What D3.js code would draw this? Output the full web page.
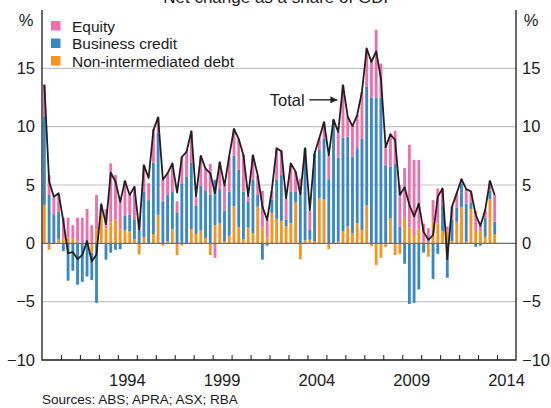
<!DOCTYPE html>
<html>
<head>
<meta charset="utf-8">
<script src="https://cdn.jsdelivr.net/npm/d3@7"></script>
<style>
  body { margin: 0; background: #fff; }
  text { font-family: "Liberation Sans", Arial, sans-serif; fill: #1a1a1a; }
</style>
</head>
<body>
<div class="chart"></div>
<script>
const title = "Net change as a share of GDP";
const source = "Sources: ABS; APRA; ASX; RBA";
const startYear = 1990;
const endYear = 2015;
const yearLabels = [1994, 1999, 2004, 2009, 2014];
const yTicks = [-10, -5, 0, 5, 10, 15];
const gridTicks = [-5, 5, 10, 15];

// stacking order: bottom to top
const seriesNames = ["Non-intermediated debt", "Business credit", "Equity"];
const legendNames = ["Equity", "Business credit", "Non-intermediated debt"];
const colours = {
  "Equity": "#ef6fab",
  "Business credit": "#3a87c8",
  "Non-intermediated debt": "#f7941e"
};

// quarterly, 1990 Q1 to 2013 Q4, per cent of GDP
const equity = [
  2.7, 1.7, 1.5, 1.5, 1.75, 1.7, 1.1, 2.05, 2.2, 2.95,
  1.55, 2.95, 0, 1.65, 5.05, 3.8, 2.7, 2.95, 1.7, 2.85,
  1.0, 2.3, 1.45, 2.85, 1.35, 1.85, 1.8, 2.45, 1.0, 2.3,
  2.2, 2.75, 0.8, 2.55, 1.85, 2.65, -1.25, 2.3, 2.15, 3.0,
  2.3, 2.65, 3.15, 0.45, 2.1, 1.65, 3.15, 1.5, 0.75, 2.7,
  2.15, 1.8, 2.45, 1.75, 1.35, 0, 1.65, 0, 1.0, 1.4,
  2.05, 0, 2.2, 4.5, 1.7, 2.6, 2.85, 4.0, 3.3, 3.3,
  5.8, 2.9, 1.6, 2.85, 2.8, 3.55, 4.25, 7.1, 6.45, 5.85,
  1.55, 1.3, 1.85, 3.0, 1.4, 0.45, 1.1, 1.25, 0.45, 1.25,
  1.0, 1.6, 0.45, 0.65, 0.85, 2.3
];
const businessCredit = [
  7.6, 4.15, 2.5, 2.33, -0.65, -3.2, -2.35, -3.55, -3.3, -2.85,
  -2.35, -5.1, 0.65, -1.4, -0.8, -0.55, -0.5, 1.25, 1.45, 1.65,
  1.1, 3.85, 3.7, 6.1, 7.0, 3.6, 4.05, 3.2, 2.6, 5.15,
  5.7, 5.7, 2.4, 3.85, 4.1, 4.15, 3.9, 2.95, 2.6, 3.8,
  4.3, 4.95, 4.1, 2.25, 4.6, 1.0, -1.4, -0.2, 1.15, 3.35,
  3.95, 0.6, 2.65, 0.9, 4.2, 7.9, 0.85, 7.5, 4.15, 5.25,
  5.5, 10.6, 7.2, 8.0, 7.7, 6.6, 6.4, 7.85, 10.15, 12.5,
  12.5, 12.5, 6.7, 4.4, 6.85, 1.45, -1.75, -5.2, -5.1, -3.95,
  -0.8, 0, -3.05, -0.9, 2.25, -2.95, 1.85, 1.2, 2.0, 3.25,
  0.5, -0.3, -0.2, 1.65, 0.7, 1.05
];
const nonIntermediated = [
  3.3, -0.55, 0, 0.37, 0.45, 0.5, 0.45, 0.15, 0, 0,
  -0.8, 1.2, 2.7, 1.3, 1.8, 2.05, 1.2, 1.15, 1.0, 0.35,
  -0.95, 0.55, 0, 0.8, 2.45, -0.2, 0.15, 1.2, -1.0, -0.2,
  0, 1.2, 0.8, 1.1, 0.45, -1.0, 1.55, 1.7, 0.2, 0.65,
  3.2, 1.35, 0.35, 1.35, 0.85, 3.15, 1.35, 0.5, 2.6, 2.1,
  1.9, 1.45, 1.75, 3.5, -1.35, 0.25, 0.3, 0.2, 3.85, 3.75,
  -0.5, 0, 0.15, 1.05, 1.45, 0.85, 1.75, 1.15, 3.25, -0.25,
  -1.85, -1.25, -0.3, 2.15, -1.0, -0.9, 2.2, 1.35, 0.7, 1.3,
  0.15, -1.15, 1.85, 1.7, 1.05, 1.0, 0.2, 1.85, 3.1, 0.15,
  2.95, 1.15, 1.05, 0.55, 3.8, 0.8
];
const total = [
  13.6, 5.3, 4.0, 4.3, 1.9, -0.85, -0.75, -1.35, -1.0, 0.2,
  -1.55, -0.95, 3.35, 1.65, 6.05, 5.3, 3.55, 5.35, 4.15, 4.85,
  1.15, 6.7, 5.6, 9.7, 10.8, 5.45, 6.0, 6.85, 4.35, 7.4,
  7.85, 9.6, 4.05, 7.5, 6.4, 6.0, 4.3, 6.95, 4.95, 7.5,
  9.8, 8.95, 7.55, 4.05, 7.55, 5.85, 3.15, 2.0, 4.6, 8.15,
  7.9, 3.85, 6.85, 6.15, 4.2, 8.15, 2.85, 7.7, 9.0, 10.4,
  7.55, 10.6, 9.55, 13.55, 10.85, 10.05, 11.0, 13.0, 16.7, 15.55,
  16.45, 14.15, 8.25, 9.35, 8.85, 4.15, 4.8, 3.3, 2.3, 3.4,
  1.0, 0.3, 0.7, 4.0, 4.7, -1.35, 3.15, 4.3, 5.5, 4.65,
  4.45, 2.45, 1.5, 2.85, 5.35, 4.15
];

const width = 551, height = 408;
const margin = { top: 10, right: 35, bottom: 48, left: 42 };

const rows = equity.map((d, i) => ({
  t: startYear + i / 4,
  "Equity": d,
  "Business credit": businessCredit[i],
  "Non-intermediated debt": nonIntermediated[i],
  total: total[i]
}));

const x = d3.scaleLinear()
  .domain([startYear, endYear])
  .range([margin.left, width - margin.right]);

const y = d3.scaleLinear()
  .domain([-10, 20])
  .range([height - margin.bottom, margin.top]);

const qw = x(startYear + 0.25) - x(startYear);
const barW = qw * 0.6;

const svg = d3.select(".chart")
  .append("svg")
  .attr("width", width)
  .attr("height", height);

// gridlines
svg.append("g")
  .selectAll("line")
  .data(gridTicks)
  .join("line")
  .attr("x1", x(startYear))
  .attr("x2", x(endYear))
  .attr("y1", d => y(d))
  .attr("y2", d => y(d))
  .attr("stroke", "#c4c4c4")
  .attr("stroke-width", 1.2);

// stacked bars
const stack = d3.stack()
  .keys(seriesNames)
  .offset(d3.stackOffsetDiverging);

svg.append("g")
  .selectAll("g")
  .data(stack(rows))
  .join("g")
  .attr("fill", d => colours[d.key])
  .selectAll("rect")
  .data(d => d)
  .join("rect")
  .attr("x", d => x(d.data.t) + (qw - barW) / 2)
  .attr("width", barW)
  .attr("y", d => y(Math.max(d[0], d[1])))
  .attr("height", d => Math.abs(y(d[0]) - y(d[1])));

// zero line
svg.append("line")
  .attr("x1", x(startYear))
  .attr("x2", x(endYear))
  .attr("y1", y(0))
  .attr("y2", y(0))
  .attr("stroke", "#6d6d6d")
  .attr("stroke-width", 1.4);

// total line
const line = d3.line()
  .x(d => x(d.t) + qw / 2)
  .y(d => y(d.total));

svg.append("path")
  .datum(rows)
  .attr("fill", "none")
  .attr("stroke", "#231f20")
  .attr("stroke-width", 1.8)
  .attr("stroke-linejoin", "round")
  .attr("d", line);

// frame: left, right and bottom
svg.append("path")
  .attr("fill", "none")
  .attr("stroke", "#1a1a1a")
  .attr("stroke-width", 1.3)
  .attr("d", `M${x(startYear)},${y(20)}V${y(-10)}H${x(endYear)}V${y(20)}`);

// year ticks (pointing up, inside)
svg.append("g")
  .attr("transform", `translate(0,${y(-10)})`)
  .call(d3.axisBottom(x)
    .tickValues(d3.range(startYear + 1, endYear))
    .tickSize(-5)
    .tickFormat(""))
  .call(g => g.select(".domain").remove())
  .call(g => g.selectAll(".tick line").attr("stroke", "#1a1a1a").attr("stroke-width", 1));

// year labels centred on each year
svg.append("g")
  .selectAll("text")
  .data(yearLabels)
  .join("text")
  .attr("x", d => x(d + 0.5))
  .attr("y", y(-10) + 26)
  .attr("text-anchor", "middle")
  .attr("font-size", 16.5)
  .text(d => d);

// y labels both sides
const yAxisL = d3.axisLeft(y).tickValues(yTicks).tickSize(0).tickPadding(7);
const yAxisR = d3.axisRight(y).tickValues(yTicks).tickSize(0).tickPadding(6);

svg.append("g")
  .attr("transform", `translate(${x(startYear)},0)`)
  .call(yAxisL)
  .call(g => g.select(".domain").remove())
  .call(g => g.selectAll("text").attr("font-size", 16.5).attr("font-family", null).attr("fill", "#1a1a1a"));

svg.append("g")
  .attr("transform", `translate(${x(endYear)},0)`)
  .call(yAxisR)
  .call(g => g.select(".domain").remove())
  .call(g => g.selectAll("text").attr("font-size", 16.5).attr("font-family", null).attr("fill", "#1a1a1a"));

svg.append("text").attr("x", 26).attr("y", 26).attr("text-anchor", "middle").attr("font-size", 16.5).text("%");
svg.append("text").attr("x", 531).attr("y", 26).attr("text-anchor", "middle").attr("font-size", 16.5).text("%");

// title (cut at the top edge, as in the source)
svg.append("text")
  .attr("x", (x(startYear) + x(endYear)) / 2)
  .attr("y", 3)
  .attr("text-anchor", "middle")
  .attr("font-size", 17)
  .text(title);

// legend
const legend = svg.append("g")
  .selectAll("g")
  .data(legendNames)
  .join("g")
  .attr("transform", (d, i) => `translate(51,${26 + i * 17.5})`);

legend.append("rect")
  .attr("x", 0)
  .attr("y", -5)
  .attr("width", 9.5)
  .attr("height", 9.5)
  .attr("fill", d => colours[d]);

legend.append("text")
  .attr("x", 21)
  .attr("y", 0)
  .attr("dy", "0.36em")
  .attr("font-size", 15.5)
  .text(d => d);

// "Total" annotation with arrow
svg.append("defs").append("marker")
  .attr("id", "arrow")
  .attr("viewBox", "0 0 10 10")
  .attr("refX", 10)
  .attr("refY", 5)
  .attr("markerWidth", 7)
  .attr("markerHeight", 7)
  .attr("markerUnits", "userSpaceOnUse")
  .attr("orient", "auto")
  .append("path")
  .attr("d", "M0,0L10,5L0,10Z")
  .attr("fill", "#231f20");

svg.append("text")
  .attr("x", x(2003.85))
  .attr("y", y(12.3))
  .attr("dy", "0.36em")
  .attr("text-anchor", "end")
  .attr("font-size", 16.5)
  .text("Total");

svg.append("line")
  .attr("x1", x(2004.1))
  .attr("x2", x(2005.58))
  .attr("y1", y(12.3))
  .attr("y2", y(12.3))
  .attr("stroke", "#231f20")
  .attr("stroke-width", 1.4)
  .attr("marker-end", "url(#arrow)");

// source
svg.append("text")
  .attr("x", 42)
  .attr("y", 404)
  .attr("font-size", 13.5)
  .text(source);
</script>
</body>
</html>
